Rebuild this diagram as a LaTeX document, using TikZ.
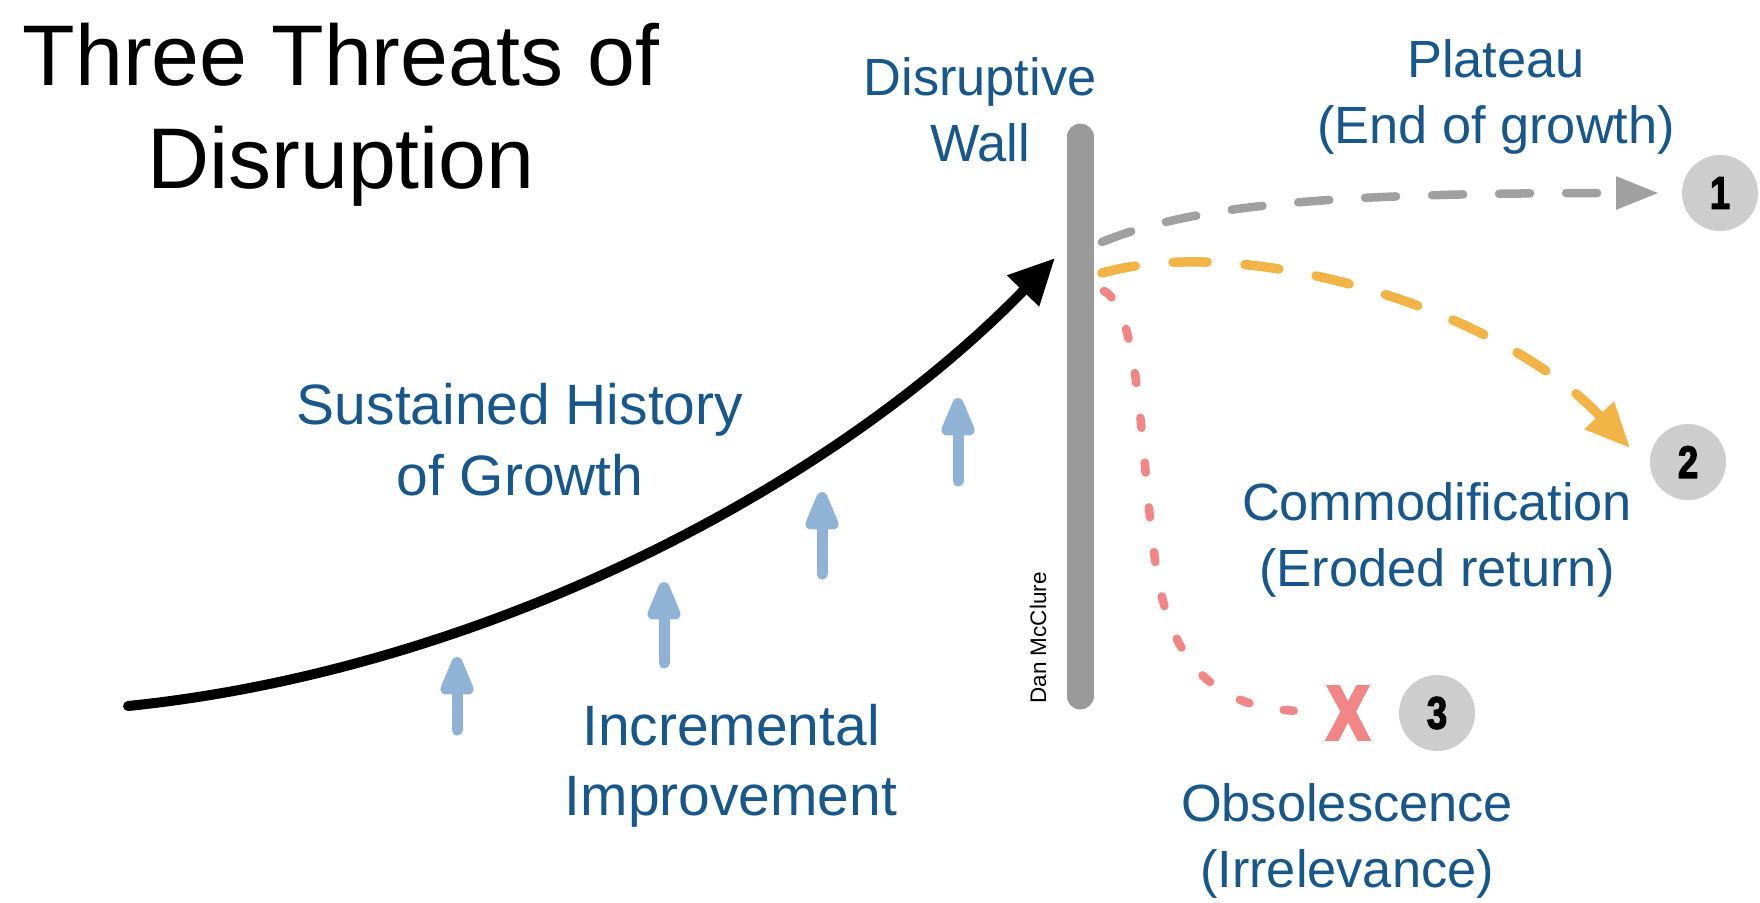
\documentclass[tikz,border=0pt]{standalone}
\usepackage{fontspec}
\setmainfont{Liberation Sans}
\newfontfamily\condbold{Liberation Sans Bold}[FakeStretch=0.8,FakeBold=2.5]
\newfontfamily\heavybold{Liberation Sans Bold}[FakeStretch=0.82,FakeBold=5]
\usetikzlibrary{arrows.meta}
\definecolor{txtblue}{RGB}{24,87,140}
\definecolor{wallgray}{RGB}{154,154,154}
\definecolor{plateaugray}{RGB}{160,160,160}
\definecolor{commorange}{RGB}{242,180,71}
\definecolor{obspink}{RGB}{242,133,133}
\definecolor{circgray}{RGB}{205,205,205}
\definecolor{incblue}{RGB}{143,178,213}
\tikzset{
  titletext/.style={align=center, inner sep=0pt, font=\fontsize{24.5}{29.3}\selectfont},
  biglabel/.style={align=center, inner sep=0pt, text=txtblue, font=\fontsize{16.2}{20}\selectfont},
  smalllabel/.style={align=center, inner sep=0pt, text=txtblue, font=\fontsize{14.9}{18.8}\selectfont},
  numcircle/.style={circle, fill=circgray, minimum size=7.6mm, inner sep=0pt, font=\fontsize{13}{14}\condbold},
  incarrow/.style={draw=incblue, line width=1.1mm, line cap=round, -{Triangle[length=4.8mm,width=3.5mm,round=false]}},
  growth/.style={draw=black, line width=1mm, line cap=round, -{Triangle[length=4.6mm,width=4.2mm]}},
  wallbar/.style={draw=wallgray, line width=2.7mm, line cap=round},
  plateauline/.style={draw=plateaugray, line width=0.85mm, line cap=round, dash pattern=on 3.1mm off 3.6mm, -{Triangle[length=4.3mm,width=3.1mm]}},
  commline/.style={draw=commorange, line width=0.95mm, line cap=round, dash pattern=on 3.4mm off 3.8mm, -{Triangle[length=4.5mm,width=3.8mm]}},
  obsline/.style={draw=obspink, line width=0.85mm, line cap=round, dash pattern=on 1mm off 3.5mm}
}
\begin{document}
\begin{tikzpicture}[x=0.1mm,y=-0.1mm]
\useasboundingbox (0,0) rectangle (1760,902);

% title
\node[titletext] (title) at (341,115) {Three Threats of\\Disruption};

% wall
\coordinate (walltop) at (1080,137);
\coordinate (wallbot) at (1080,696);
\draw[wallbar] (walltop) -- (wallbot);
\node[rotate=90, inner sep=0pt, font=\fontsize{6.4}{8}\selectfont] (author) at (1038,638) {Dan McClure};
\node[smalllabel] (walllabel) at (980,109.5) {Disruptive\\Wall};

% growth curve
\coordinate (gstart) at (128,706);
\coordinate (gend) at (1055,258);
\draw[growth] (gstart) .. controls (480,670) and (830,490) .. (gend);
\node[biglabel] (sustained) at (520,439.5) {Sustained History\\of Growth};

% incremental arrows
\coordinate (i1b) at (457,730); \coordinate (i1t) at (457,657);
\coordinate (i2b) at (664,663); \coordinate (i2t) at (664,582);
\coordinate (i3b) at (822,574); \coordinate (i3t) at (822,492);
\coordinate (i4b) at (958,481); \coordinate (i4t) at (958,398);
\draw[incarrow] (i1b) -- (i1t);
\draw[incarrow] (i2b) -- (i2t);
\draw[incarrow] (i3b) -- (i3t);
\draw[incarrow] (i4b) -- (i4t);
\node[biglabel] (incremental) at (731,766) {Incremental\\Improvement};

% circles
\node[numcircle] (c1) at (1720,193) {1};
\node[numcircle] (c2) at (1688,462) {2};
\node[numcircle] (c3) at (1437,713) {3};

% threat 1
\coordinate (p1s) at (1102,242);
\coordinate (p1e) at (1659,193);
\draw[plateauline] (p1s) .. controls (1200,202) and (1350,193) .. (p1e);
\node[smalllabel] (plateau) at (1496,96.5) {Plateau\\(End of growth)};

% threat 2
\coordinate (p2s) at (1102,273);
\coordinate (p2e) at (1630,448);
\draw[commline] (p2s) .. controls (1250,232) and (1500,310) .. (p2e);
\node[smalllabel] (commod) at (1437,539.5) {Commodification\\(Eroded return)};

% threat 3
\coordinate (p3s) at (1104,291);
\coordinate (p3m) at (1155,560);
\coordinate (p3e) at (1310,711);
\draw[obsline] (p3s) .. controls (1140,310) and (1140,450) .. (p3m) .. controls (1170,670) and (1220,712) .. (p3e);
\node[inner sep=0pt, text=obspink, font=\fontsize{21.5}{24}\heavybold] (xmark) at (1348,713) {X};
\node[smalllabel] (obsol) at (1347,841) {Obsolescence\\(Irrelevance)};
\end{tikzpicture}
\end{document}
